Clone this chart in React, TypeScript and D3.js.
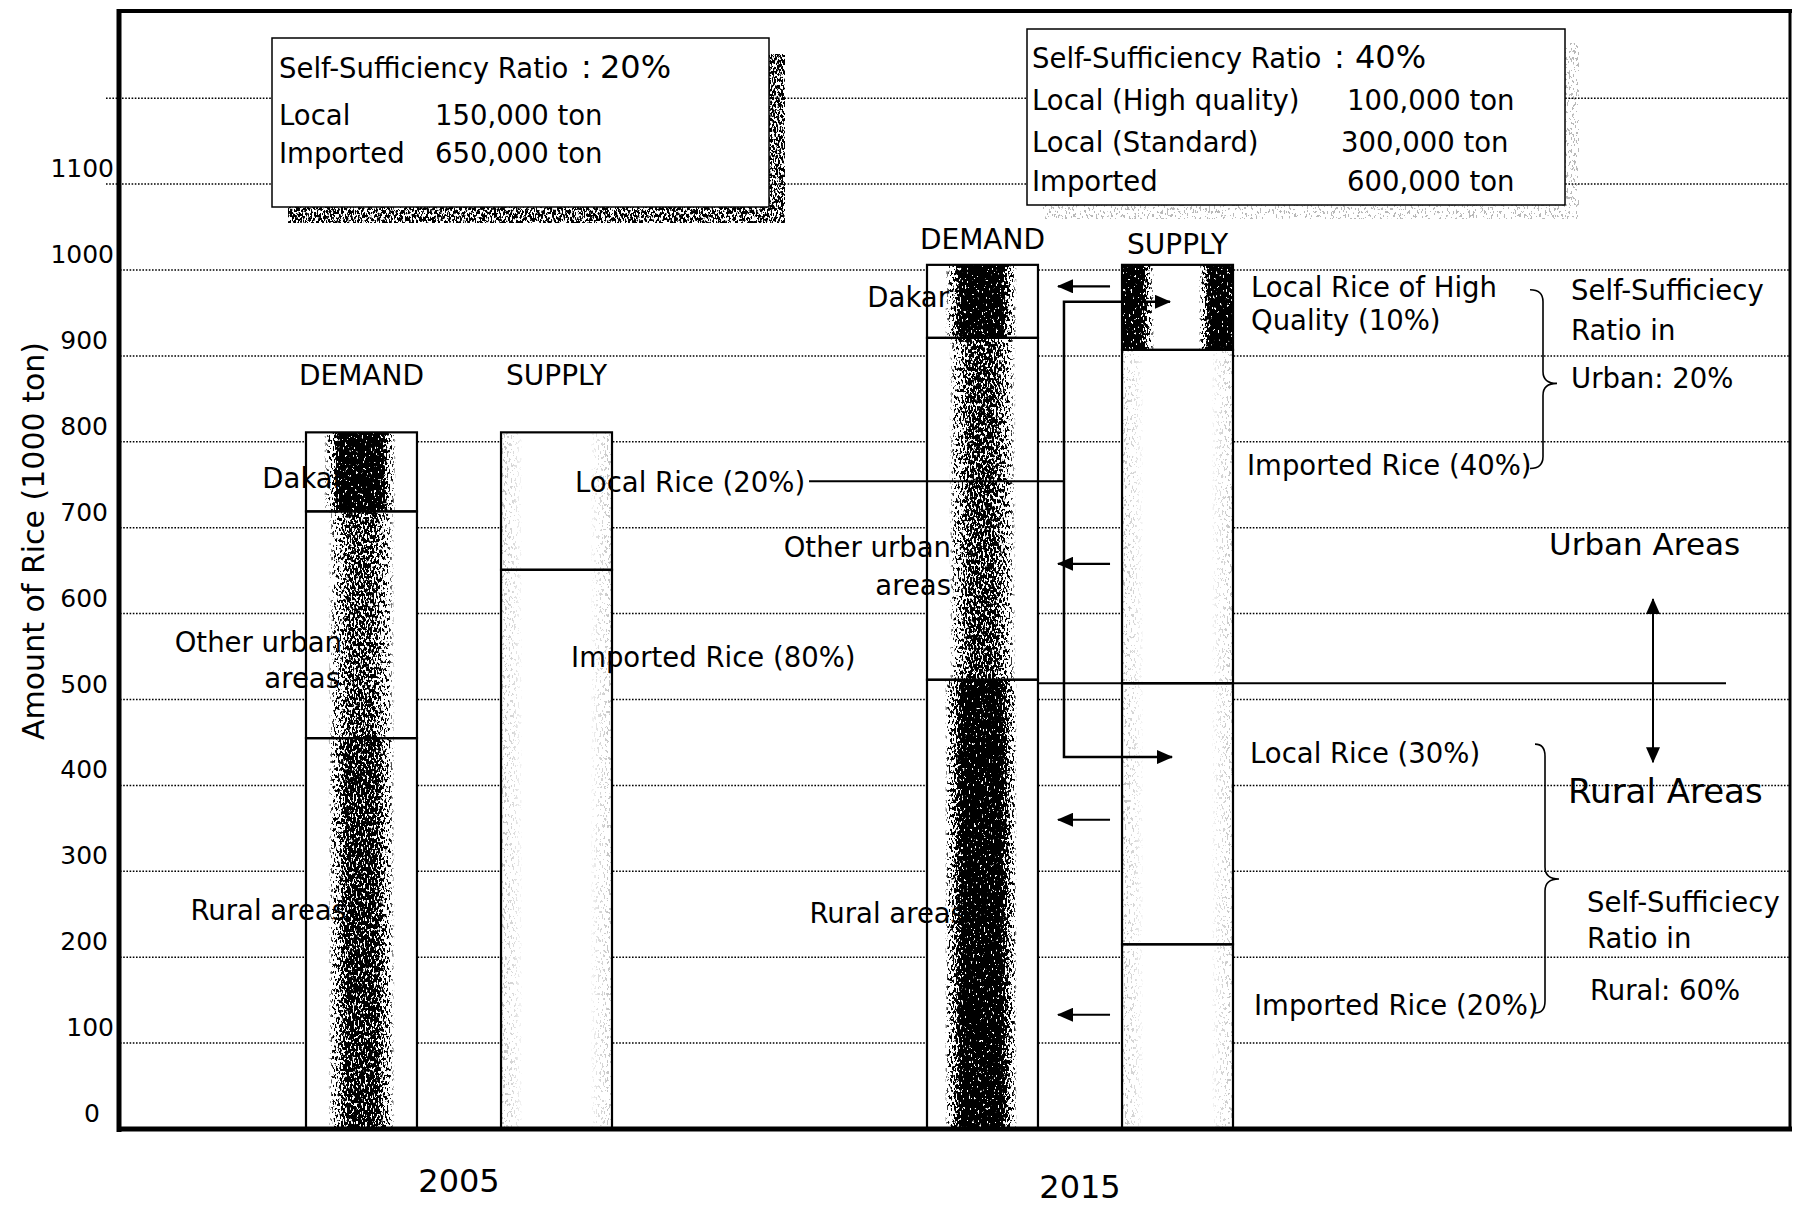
import React from "react";
import * as d3 from "d3";

// ---------- data ----------
const years = ["2005", "2015"];
const barKinds = ["DEMAND", "SUPPLY"];
const demandParts = ["Rural areas", "Other urban areas", "Dakar"];
const demand2005 = [455, 264, 92];
const demand2015 = [523, 398, 85];
const supplyParts2005 = ["Imported Rice (80%)", "Local Rice (20%)"];
const supply2005 = [651, 160];
const supplyParts2015 = ["Imported Rice (20%)", "Local Rice (30%)", "Imported Rice (40%)", "Local Rice of High Quality (10%)"];
const supply2015 = [215, 304, 388, 99];
const yTickValues = [0, 100, 200, 300, 400, 500, 600, 700, 800, 900, 1000, 1100];
const yTickLabels = ["0", "100", "200", "300", "400", "500", "600", "700", "800", "900", "1000", "1100"];
const gridValues = [100, 200, 300, 400, 500, 600, 700, 800, 900, 1000, 1100, 1200];
const box2005Rows = [["Local", "150,000 ton"], ["Imported", "650,000 ton"]];
const box2015Rows = [["Local (High quality)", "100,000 ton"], ["Local (Standard)", "300,000 ton"], ["Imported", "600,000 ton"]];
const ratio2005 = "20%";
const ratio2015 = "40%";
const leftArrowValues = [981, 658, 360, 133];

const W = 1795, H = 1207;
const FONT = "'DejaVu Sans', 'Liberation Sans', sans-serif";
const FS = 27.5;

const yScale = d3.scaleLinear().domain([0, 1000]).range([1129, 270]);
const xYear = d3.scalePoint().domain(years).range([459, 1080]);
const xInner = d3.scaleBand().domain(barKinds).range([-153, 153]).paddingInner(0.431);
const bw = xInner.bandwidth();
const barX = (year: string, kind: string) => (xYear(year) as number) + (xInner(kind) as number);

function stackSegs(vals: number[]) {
  const c = Array.from(d3.cumsum(vals));
  return vals.map((v, i) => ({ y0: i === 0 ? 0 : c[i - 1], y1: c[i] }));
}

const demandTex2005 = ["gRuralMid", "gOther", "gDakar"];
const demandTex2015 = ["gRuralDark", "gOther15", "gDakar"];
const supplyTex2005 = ["gSpeck", "gSpeck"];
const supplyTex2015 = ["gSpeck", "gSpeck", "gSpeck", "gEdges"];

type Bar = { x: number; segs: { y0: number; y1: number }[]; tex: string[] };
const bars: Bar[] = [
  { x: barX("2005", "DEMAND"), segs: stackSegs(demand2005), tex: demandTex2005 },
  { x: barX("2005", "SUPPLY"), segs: stackSegs(supply2005), tex: supplyTex2005 },
  { x: barX("2015", "DEMAND"), segs: stackSegs(demand2015), tex: demandTex2015 },
  { x: barX("2015", "SUPPLY"), segs: stackSegs(supply2015), tex: supplyTex2015 },
];

function Grad({ id, stops }: { id: string; stops: [number, number][] }) {
  return (
    <linearGradient id={id} x1="0" y1="0" x2="1" y2="0">
      {stops.map(([o, a], i) => (
        <stop key={i} offset={o} stopColor="#000" stopOpacity={a} />
      ))}
    </linearGradient>
  );
}

function brace(x0: number, x1: number, xt: number, vTop: number, vMid: number, vBot: number) {
  const yt = yScale(vTop), ym = yScale(vMid), yb = yScale(vBot);
  const r = 12;
  return `M${x0},${yt} Q${x1},${yt} ${x1},${yt + r} L${x1},${ym - r} Q${x1},${ym} ${xt},${ym} Q${x1},${ym} ${x1},${ym + r} L${x1},${yb - r} Q${x1},${yb} ${x0},${yb}`;
}

function tickX(label: string) {
  if (label === "0") return 100;
  if (label.startsWith("1")) return 114;
  return 108;
}

export default function App() {
  const d05 = barX("2005", "DEMAND");
  const s05 = barX("2005", "SUPPLY");
  const d15 = barX("2015", "DEMAND");
  const s15 = barX("2015", "SUPPLY");
  const connX = d15 + bw + 26;
  const txt = { fontFamily: FONT, fill: "#000" } as React.CSSProperties;

  const seg05 = stackSegs(demand2005);
  const seg15 = stackSegs(demand2015);
  const sup15 = stackSegs(supply2015);

  return (
    <div style={{ position: "absolute", left: 0, top: 0 }}>
      <svg width={W} height={H} viewBox={`0 0 ${W} ${H}`} style={{ display: "block", background: "#fff" }}>
        <defs>
          <filter id="grain" x="-5%" y="-5%" width="110%" height="110%" colorInterpolationFilters="sRGB">
            <feTurbulence type="fractalNoise" baseFrequency="0.55 0.28" numOctaves={2} seed={7} result="noise" />
            <feColorMatrix in="noise" type="matrix" values="0 0 0 0 0  0 0 0 0 0  0 0 0 0 0  3 0 0 0 -1.15" result="nA" />
            <feComposite in="SourceGraphic" in2="nA" operator="arithmetic" k1={0} k2={1} k3={-1} k4={0} result="d" />
            <feComponentTransfer in="d">
              <feFuncA type="linear" slope={7} intercept={0} />
            </feComponentTransfer>
          </filter>
          <Grad id="gDakar" stops={[[0.16, 0], [0.24, 0.25], [0.31, 1], [0.67, 1], [0.75, 0.25], [0.81, 0]]} />
          <Grad id="gOther" stops={[[0.2, 0], [0.3, 0.25], [0.4, 0.55], [0.6, 0.55], [0.7, 0.25], [0.8, 0]]} />
          <Grad id="gOther15" stops={[[0.2, 0], [0.3, 0.3], [0.4, 0.62], [0.6, 0.62], [0.7, 0.3], [0.8, 0]]} />
          <Grad id="gRuralMid" stops={[[0.2, 0], [0.29, 0.3], [0.37, 0.72], [0.63, 0.72], [0.71, 0.3], [0.8, 0]]} />
          <Grad id="gRuralDark" stops={[[0.16, 0], [0.25, 0.4], [0.33, 1], [0.66, 1], [0.74, 0.4], [0.81, 0]]} />
          <Grad id="gSpeck" stops={[[0, 0.035], [0.12, 0.02], [0.2, 0], [0.8, 0], [0.88, 0.02], [1, 0.035]]} />
          <Grad id="gEdges" stops={[[0, 1], [0.17, 1], [0.24, 0.25], [0.29, 0], [0.69, 0], [0.74, 0.25], [0.8, 1], [1, 1]]} />
          <linearGradient id="gShadowDense" x1="0" y1="0" x2="1" y2="0">
            <stop offset="0" stopColor="#000" stopOpacity={0.45} />
            <stop offset="1" stopColor="#000" stopOpacity={0.45} />
          </linearGradient>
          <linearGradient id="gShadowLight" x1="0" y1="0" x2="1" y2="0">
            <stop offset="0" stopColor="#000" stopOpacity={0.04} />
            <stop offset="1" stopColor="#000" stopOpacity={0.04} />
          </linearGradient>
          <marker id="ah" markerUnits="userSpaceOnUse" markerWidth={16} markerHeight={14} refX={15} refY={7} orient="auto-start-reverse">
            <path d="M0,0 L16,7 L0,14 Z" fill="#000" />
          </marker>
        </defs>

        {/* grid lines */}
        {gridValues.map((v) => (
          <line key={v} x1={v >= 1100 ? 106 : 120} x2={1790} y1={yScale(v)} y2={yScale(v)}
            stroke="#000" strokeWidth={1.5} strokeDasharray="1.6 1.6" />
        ))}

        {/* y tick labels */}
        {yTickValues.map((v, i) => (
          <text key={v} x={tickX(yTickLabels[i])} y={yScale(v) - 7} textAnchor="end" fontSize={25} style={txt}>{yTickLabels[i]}</text>
        ))}
        <text transform={`translate(33,541) rotate(-90)`} textAnchor="middle" dominantBaseline="central" fontSize={30} style={txt}>
          Amount of Rice (1000 ton)
        </text>

        {/* info boxes */}
        <rect x={288} y={54} width={497} height={169} fill="url(#gShadowDense)" filter="url(#grain)" />
        <rect x={272} y={38} width={497} height={169} fill="#fff" stroke="#000" strokeWidth={1.5} />
        <text x={279} y={78} fontSize={FS} style={txt}>Self-Sufficiency Ratio</text>
        <text x={581} y={78} fontSize={32} style={txt}>:</text>
        <text x={600} y={78} fontSize={32} style={txt}>{ratio2005}</text>
        {box2005Rows.map((r, i) => (
          <g key={i}>
            <text x={279} y={125 + i * 38} fontSize={FS} style={txt}>{r[0]}</text>
            <text x={435} y={125 + i * 38} fontSize={FS} style={txt}>{r[1]}</text>
          </g>
        ))}

        <rect x={1041} y={43} width={538} height={176} fill="url(#gShadowLight)" filter="url(#grain)" />
        <rect x={1027} y={29} width={538} height={176} fill="#fff" stroke="#000" strokeWidth={1.5} />
        <text x={1032} y={68} fontSize={FS} style={txt}>Self-Sufficiency Ratio</text>
        <text x={1334} y={68} fontSize={32} style={txt}>:</text>
        <text x={1355} y={68} fontSize={32} style={txt}>{ratio2015}</text>
        {box2015Rows.map((r, i) => (
          <g key={i}>
            <text x={1032} y={[110, 152, 191][i]} fontSize={FS} style={txt}>{r[0]}</text>
            <text x={[1347, 1341, 1347][i]} y={[110, 152, 191][i]} fontSize={FS} style={txt}>{r[1]}</text>
          </g>
        ))}

        {/* bar white fills */}
        {bars.map((b, bi) =>
          b.segs.map((s, si) => (
            <rect key={`f${bi}-${si}`} x={b.x} y={yScale(s.y1)} width={bw} height={yScale(s.y0) - yScale(s.y1)} fill="#fff" />
          ))
        )}

        {/* bar headers */}
        <text x={d05 + bw / 2} y={yScale(seg05[2].y1) - 47} textAnchor="middle" fontSize={28} style={txt}>DEMAND</text>
        <text x={s05 + bw / 2} y={yScale(seg05[2].y1) - 47} textAnchor="middle" fontSize={28} style={txt}>SUPPLY</text>
        <text x={d15 + bw / 2} y={yScale(seg15[2].y1) - 16} textAnchor="middle" fontSize={28} style={txt}>DEMAND</text>
        <text x={s15 + bw / 2} y={yScale(seg15[2].y1) - 11} textAnchor="middle" fontSize={28} style={txt}>SUPPLY</text>

        {/* demand labels 2005 */}
        <text x={d05 + 38} y={yScale(746)} textAnchor="end" fontSize={FS} style={txt}>{demandParts[2]}</text>
        <text x={d05 + 36} y={yScale(555)} textAnchor="end" fontSize={FS} style={txt}>Other urban</text>
        <text x={d05 + 34} y={yScale(513)} textAnchor="end" fontSize={FS} style={txt}>areas</text>
        <text x={d05 + 40} y={yScale(243)} textAnchor="end" fontSize={FS} style={txt}>{demandParts[0]}</text>

        {/* demand labels 2015 */}
        <text x={d15 + 22} y={yScale(957)} textAnchor="end" fontSize={FS} style={txt}>{demandParts[2]}</text>
        <text x={d15 + 24} y={yScale(666)} textAnchor="end" fontSize={FS} style={txt}>Other urban</text>
        <text x={d15 + 24} y={yScale(622)} textAnchor="end" fontSize={FS} style={txt}>areas</text>
        <text x={d15 + 38} y={yScale(240)} textAnchor="end" fontSize={FS} style={txt}>{demandParts[0]}</text>

        {/* supply labels 2005 */}
        <text x={s05 + 74} y={yScale(742)} fontSize={FS} style={txt}>{supplyParts2005[1]}</text>
        <text x={s05 + 70} y={yScale(538)} fontSize={FS} style={txt}>{supplyParts2005[0]}</text>

        {/* supply labels 2015 */}
        <text x={s15 + bw + 18} y={yScale(969)} fontSize={FS} style={txt}>Local Rice of High</text>
        <text x={s15 + bw + 18} y={yScale(930)} fontSize={FS} style={txt}>Quality (10%)</text>
        <text x={s15 + bw + 14} y={yScale(761)} fontSize={FS} style={txt}>{supplyParts2015[2]}</text>
        <text x={s15 + bw + 17} y={yScale(426)} fontSize={FS} style={txt}>{supplyParts2015[1]}</text>
        <text x={s15 + bw + 21} y={yScale(133)} fontSize={FS} style={txt}>{supplyParts2015[0]}</text>

        {/* right side notes */}
        <g fontSize={FS} style={{ ...txt, whiteSpace: "pre" }}>
          <text x={1571} y={300}>Self-Sufficiecy</text>
          <text x={1571} y={340}>Ratio in</text>
          <text x={1571} y={388}>{"Urban:  20%"}</text>
          <text x={1587} y={912}>Self-Sufficiecy</text>
          <text x={1587} y={948}>Ratio in</text>
          <text x={1590} y={1000}>{"Rural:  60%"}</text>
        </g>
        <text x={1549} y={yScale(668)} fontSize={31} style={txt}>Urban Areas</text>
        <text x={1568} y={yScale(379)} fontSize={34} style={txt}>Rural Areas</text>

        {/* textures */}
        {bars.map((b, bi) =>
          b.segs.map((s, si) => (
            <rect key={`t${bi}-${si}`} x={b.x} y={yScale(s.y1)} width={bw} height={yScale(s.y0) - yScale(s.y1)}
              fill={`url(#${b.tex[si]})`} filter="url(#grain)" />
          ))
        )}

        {/* bar outlines */}
        {bars.map((b, bi) =>
          b.segs.map((s, si) => (
            <rect key={`o${bi}-${si}`} x={b.x} y={yScale(s.y1)} width={bw} height={yScale(s.y0) - yScale(s.y1)}
              fill="none" stroke="#000" strokeWidth={2.2} />
          ))
        )}

        {/* leader and connector lines */}
        <line x1={s05 + 308} x2={connX} y1={yScale(754)} y2={yScale(754)} stroke="#000" strokeWidth={2} />
        <line x1={d15 + bw} x2={1726} y1={yScale(sup15[1].y1)} y2={yScale(sup15[1].y1)} stroke="#000" strokeWidth={2} />
        <path d={`M${s15 + 48},${yScale(963)} L${connX},${yScale(963)} L${connX},${yScale(433)} L${s15 + 50},${yScale(433)}`}
          fill="none" stroke="#000" strokeWidth={2.5} markerStart="url(#ah)" markerEnd="url(#ah)" />
        {leftArrowValues.map((v, i) => (
          <line key={i} x1={s15 - 12} x2={d15 + bw + 20} y1={yScale(v)} y2={yScale(v)} stroke="#000" strokeWidth={2.2} markerEnd="url(#ah)" />
        ))}
        <line x1={1653} x2={1653} y1={yScale(617)} y2={yScale(427)} stroke="#000" strokeWidth={2} markerStart="url(#ah)" markerEnd="url(#ah)" />

        {/* braces */}
        <path d={brace(1530, 1543, 1557, 977, 868, 769)} fill="none" stroke="#000" strokeWidth={1.6} />
        <path d={brace(1535, 1545, 1559, 448, 291, 135)} fill="none" stroke="#000" strokeWidth={1.6} />

        {/* year labels */}
        <text x={xYear("2005")} y={1192} textAnchor="middle" fontSize={32} style={txt}>{years[0]}</text>
        <text x={xYear("2015")} y={1198} textAnchor="middle" fontSize={32} style={txt}>{years[1]}</text>

        {/* frame */}
        <line x1={119} x2={1792} y1={11} y2={11} stroke="#000" strokeWidth={4} />
        <line x1={1790} x2={1790} y1={9} y2={1131} stroke="#000" strokeWidth={3} />
        <line x1={119} x2={119} y1={9} y2={1132} stroke="#000" strokeWidth={5} />
        <line x1={117} x2={1792} y1={1129} y2={1129} stroke="#000" strokeWidth={5} />
      </svg>
    </div>
  );
}
